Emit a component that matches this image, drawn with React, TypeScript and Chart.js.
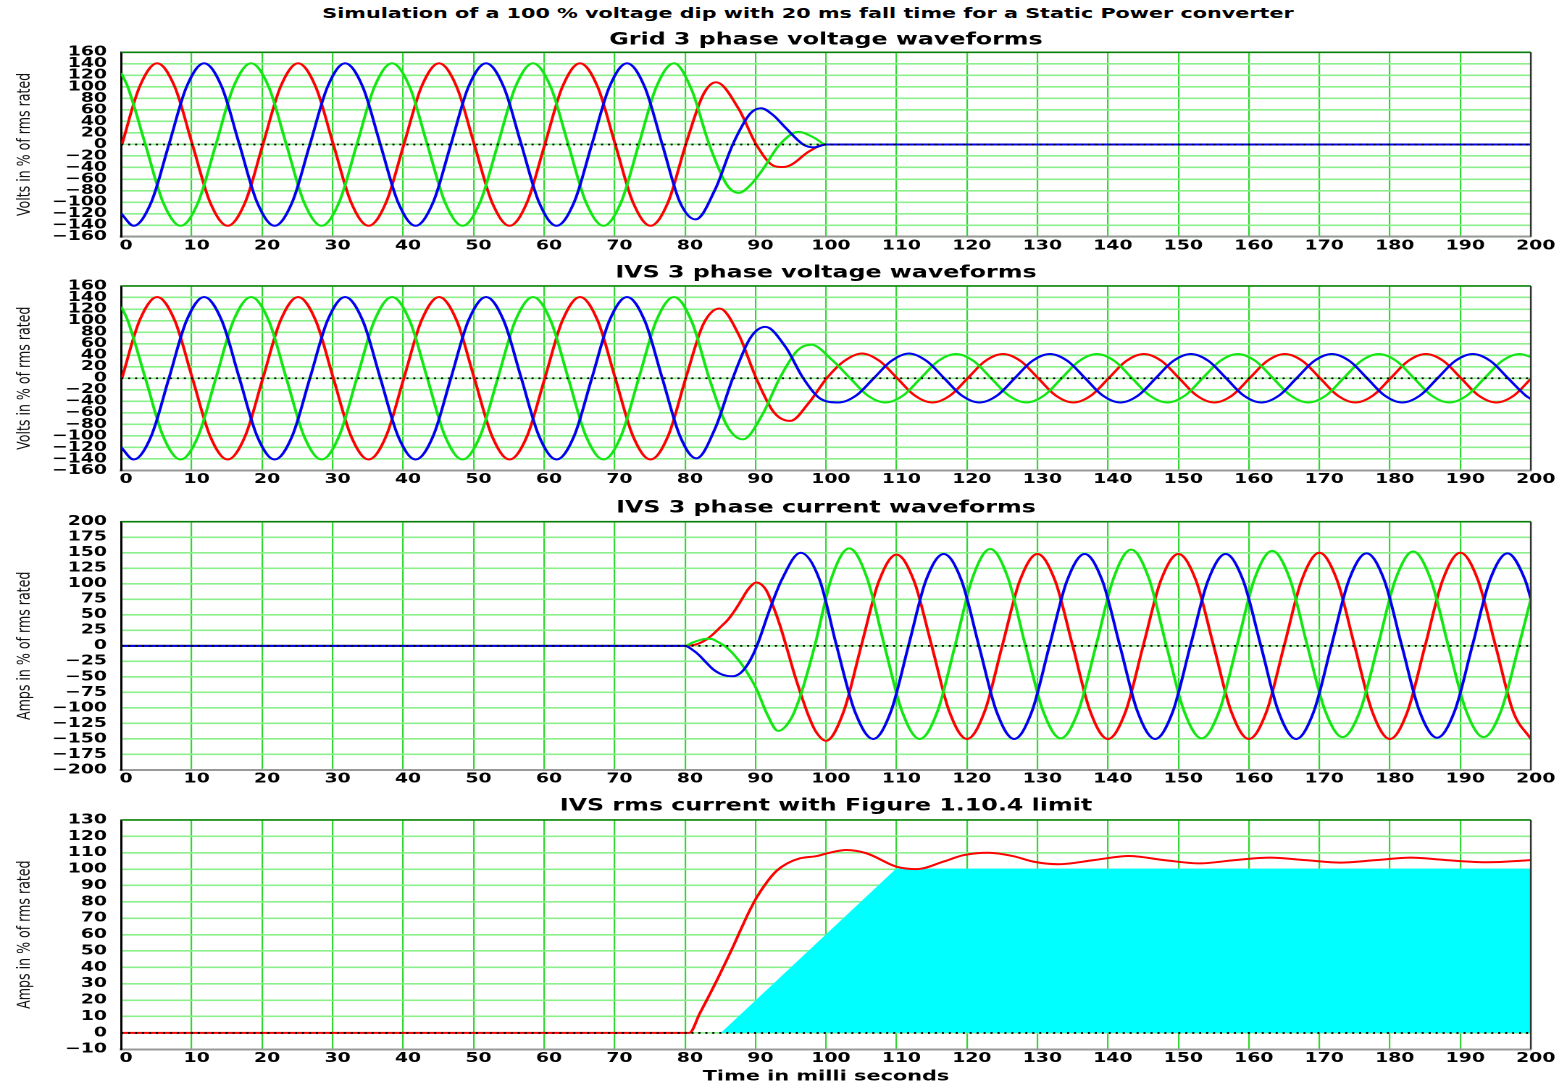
import React, { useEffect, useRef } from 'react';
import { Chart, registerables } from 'chart.js';
Chart.register(...registerables);

type Pt = [number, number];

// ---------- text ----------
const MAIN_TITLE = 'Simulation of a 100 % voltage dip with 20 ms fall time for a Static Power converter';
const TITLE_GRID_V = 'Grid 3 phase voltage waveforms';
const TITLE_IVS_V = 'IVS 3 phase voltage waveforms';
const TITLE_IVS_I = 'IVS 3 phase current waveforms';
const TITLE_RMS = 'IVS rms current with Figure 1.10.4 limit';
const Y_VOLTS = 'Volts in % of rms rated';
const Y_AMPS = 'Amps in % of rms rated';
const X_TIME = 'Time in milli seconds';

// ---------- ticks ----------
const TIME_TICKS = [0, 10, 20, 30, 40, 50, 60, 70, 80, 90, 100, 110, 120, 130, 140, 150, 160, 170, 180, 190, 200];
const VOLT_TICKS = [-160, -140, -120, -100, -80, -60, -40, -20, 0, 20, 40, 60, 80, 100, 120, 140, 160];
const CURR_TICKS = [-200, -175, -150, -125, -100, -75, -50, -25, 0, 25, 50, 75, 100, 125, 150, 175, 200];
const RMS_TICKS = [-10, 0, 10, 20, 30, 40, 50, 60, 70, 80, 90, 100, 110, 120, 130];

// ---------- pre-dip voltage waveforms (identical in grid and IVS) ----------
const RED_PRE: Pt[] = [
  [0.1, 0], [2.6, 100], [5.1, 141], [7.6, 100], [10.1, 0], [12.6, -100], [15.1, -141], [17.6, -100],
  [20.1, 0], [22.6, 100], [25.1, 141], [27.6, 100], [30.1, 0], [32.6, -100], [35.1, -141], [37.6, -100],
  [40.1, 0], [42.6, 100], [45.1, 141], [47.6, 100], [50.1, 0], [52.6, -100], [55.1, -141], [57.6, -100],
  [60.1, 0], [62.6, 100], [65.1, 141], [67.6, 100], [70.1, 0], [72.6, -100], [75.1, -141], [77.6, -100],
  [80.1, 0],
];
const BLUE_PRE: Pt[] = [
  [0, -120], [1.77, -141], [4.27, -100], [6.77, 0], [9.27, 100], [11.77, 141], [14.27, 100], [16.77, 0], [19.27, -100],
  [21.77, -141], [24.27, -100], [26.77, 0], [29.27, 100], [31.77, 141], [34.27, 100], [36.77, 0], [39.27, -100],
  [41.77, -141], [44.27, -100], [46.77, 0], [49.27, 100], [51.77, 141], [54.27, 100], [56.77, 0], [59.27, -100],
  [61.77, -141], [64.27, -100], [66.77, 0], [69.27, 100], [71.77, 141], [74.27, 100], [76.77, 0], [79.27, -100],
];
const GREEN_PRE: Pt[] = [
  [0, 124], [0.93, 100], [3.43, 0], [5.93, -100], [8.43, -141], [10.93, -100], [13.43, 0], [15.93, 100], [18.43, 141], [20.93, 100],
  [23.43, 0], [25.93, -100], [28.43, -141], [30.93, -100], [33.43, 0], [35.93, 100], [38.43, 141], [40.93, 100],
  [43.43, 0], [45.93, -100], [48.43, -141], [50.93, -100], [53.43, 0], [55.93, 100], [58.43, 141], [60.93, 100],
  [63.43, 0], [65.93, -100], [68.43, -141], [70.93, -100], [73.43, 0], [75.93, 100], [78.43, 141],
];

// ---------- grid voltage after the dip starts ----------
const GRID_RED_DIP: Pt[] = [[82.6, 87], [84.4, 108], [87.6, 62], [90.1, 0], [92.6, -37], [93.9, -39], [95.1, -35], [97.6, -12], [100, 0], [200, 0]];
const GRID_BLUE_DIP: Pt[] = [[81.5, -130], [84.27, -78], [86.77, 0], [89.27, 54], [90.8, 63], [92.5, 51], [94.27, 29], [96.77, 0], [98.3, -5], [100, 0], [200, 0]];
const GRID_GREEN_DIP: Pt[] = [[80.93, 95], [83.43, 0], [85.93, -70], [87.6, -84], [89.3, -70], [90.93, -45], [93.43, 0], [96.1, 22], [98.43, 11], [100, 0], [200, 0]];

// ---------- IVS voltage after the dip starts ----------
const IVS_RED_DIP: Pt[] = [
  [82.6, 94], [84.9, 121], [87.6, 76], [90.1, 0], [92.6, -59], [94.9, -74], [97.6, -42], [100.1, 0],
  [102.6, 30], [105.1, 43], [107.6, 30], [110.1, 0], [112.6, -30], [115.1, -42], [117.6, -30], [120.1, 0],
  [122.6, 30], [125.1, 42], [127.6, 30], [130.1, 0], [132.6, -30], [135.1, -42], [137.6, -30], [140.1, 0],
  [142.6, 30], [145.1, 42], [147.6, 30], [150.1, 0], [152.6, -30], [155.1, -42], [157.6, -30], [160.1, 0],
  [162.6, 30], [165.1, 42], [167.6, 30], [170.1, 0], [172.6, -30], [175.1, -42], [177.6, -30], [180.1, 0],
  [182.6, 30], [185.1, 42], [187.6, 30], [190.1, 0], [192.6, -30], [195.1, -42], [197.6, -30], [200, -1],
];
const IVS_BLUE_DIP: Pt[] = [
  [81.6, -139], [84.27, -87], [86.77, 0], [89.27, 70], [91.4, 89], [94.27, 54], [96.77, 0], [99.27, -36],
  [101.77, -42], [104.27, -30], [106.77, 0], [109.27, 30], [111.77, 43], [114.27, 30], [116.77, 0], [119.27, -30],
  [121.77, -42], [124.27, -30], [126.77, 0], [129.27, 30], [131.77, 42], [134.27, 30], [136.77, 0], [139.27, -30],
  [141.77, -42], [144.27, -30], [146.77, 0], [149.27, 30], [151.77, 42], [154.27, 30], [156.77, 0], [159.27, -30],
  [161.77, -42], [164.27, -30], [166.77, 0], [169.27, 30], [171.77, 42], [174.27, 30], [176.77, 0], [179.27, -30],
  [181.77, -42], [184.27, -30], [186.77, 0], [189.27, 30], [191.77, 42], [194.27, 30], [196.77, 0], [199.27, -30], [200, -36],
];
const IVS_GREEN_DIP: Pt[] = [
  [80.93, 99], [83.43, 0], [85.93, -82], [88.2, -106], [90.93, -64], [93.43, 0], [95.93, 48], [97.9, 58],
  [100.93, 31], [103.43, 0], [105.93, -30], [108.43, -42], [110.93, -30], [113.43, 0], [115.93, 30], [118.43, 42],
  [120.93, 30], [123.43, 0], [125.93, -30], [128.43, -42], [130.93, -30], [133.43, 0], [135.93, 30], [138.43, 42],
  [140.93, 30], [143.43, 0], [145.93, -30], [148.43, -42], [150.93, -30], [153.43, 0], [155.93, 30], [158.43, 42],
  [160.93, 30], [163.43, 0], [165.93, -30], [168.43, -42], [170.93, -30], [173.43, 0], [175.93, 30], [178.43, 42],
  [180.93, 30], [183.43, 0], [185.93, -30], [188.43, -42], [190.93, -30], [193.43, 0], [195.93, 30], [198.43, 42], [200, 37],
];

// ---------- IVS currents ----------
const CUR_RED: Pt[] = [
  [0, 0], [80, 0], [81, 1], [82, 4], [83, 10], [84, 19], [85, 30], [86, 41], [87, 56], [88, 74], [88.7, 87],
  [89.4, 97], [90.1, 102], [90.8, 99], [91.6, 88], [92.5, 64], [93.5, 32], [94.5, -6], [95.5, -45], [96.5, -80],
  [97.5, -112], [98.5, -137], [100, -153], [102.5, -106], [105, 0], [107.5, 104], [110, 147],
  [112.5, 104], [115, 0], [117.5, -106], [120, -150], [122.5, -106], [125, 0], [127.5, 105], [130, 148],
  [132.5, 105], [135, 0], [137.5, -106], [140, -150], [142.5, -106], [145, 0], [147.5, 105], [150, 148],
  [152.5, 105], [155, 0], [157.5, -106], [160, -150], [162.5, -106], [165, 0], [167.5, 106], [170, 150],
  [172.5, 106], [175, 0], [177.5, -106], [180, -150], [182.5, -106], [185, 0], [187.5, 106], [190, 150],
  [192.5, 106], [195, 0], [197.5, -106], [200, -150],
];
const CUR_BLUE: Pt[] = [
  [0, 0], [80, 0], [81, -6], [82, -15], [83, -27], [84, -38], [85, -45], [86, -48.5], [86.8, -49], [87.6, -46],
  [88.3, -39], [89.3, -22], [90.2, 0], [91.9, 55], [93.7, 106], [96.4, 150], [99.1, 106], [101.5, 0],
  [104.1, -106], [106.7, -150], [109.2, -106], [111.7, 0], [114.2, 106], [116.7, 148], [119.2, 106], [121.7, 0],
  [124.2, -106], [126.7, -150], [129.2, -106], [131.7, 0], [134.2, 105], [136.7, 148], [139.2, 105], [141.7, 0],
  [144.2, -106], [146.7, -150], [149.2, -106], [151.7, 0], [154.2, 105], [156.7, 148], [159.2, 105], [161.7, 0],
  [164.2, -106], [166.7, -150], [169.2, -106], [171.7, 0], [174.2, 106], [176.7, 149], [179.2, 106], [181.7, 0],
  [184.2, -105], [186.7, -148], [189.2, -105], [191.7, 0], [194.2, 106], [196.7, 149], [199.2, 106], [200, 76],
];
const CUR_GREEN: Pt[] = [
  [0, 0], [80, 0], [81, 5], [82, 9], [83, 11.5], [83.8, 11], [84.7, 6], [85.6, 0], [87, -15], [88.3, -34],
  [90.2, -71], [91.6, -109], [93.2, -137], [95.1, -116], [96.55, -74], [98.4, 0], [100.8, 110], [103.3, 157],
  [105.8, 110], [108.3, 0], [110.8, -106], [113.3, -150], [115.8, -106], [118.3, 0], [120.8, 110], [123.3, 156],
  [125.8, 110], [128.3, 0], [130.8, -105], [133.3, -149], [135.8, -105], [138.3, 0], [140.8, 109], [143.3, 155],
  [145.8, 109], [148.3, 0], [150.8, -105], [153.3, -149], [155.8, -105], [158.3, 0], [160.8, 108], [163.3, 153],
  [165.8, 108], [168.3, 0], [170.8, -104], [173.3, -147], [175.8, -104], [178.3, 0], [180.8, 107], [183.3, 152],
  [185.8, 107], [188.3, 0], [190.8, -104], [193.3, -147], [195.8, -104], [198.3, 0], [200, 75],
];

// ---------- rms current and limit ----------
const RMS_CURRENT: Pt[] = [
  [0, 0], [80.6, 0], [82.1, 12], [84.5, 32], [86.85, 53], [88, 64], [89.2, 75], [90.2, 83], [91.6, 92],
  [93, 99], [94.5, 103.5], [96.3, 106.6], [98.7, 108], [100.1, 109.6], [102.9, 111.7], [105.8, 109.6],
  [110, 101.5], [112.9, 100], [116.6, 104.5], [119.5, 108.5], [123, 110], [126.5, 108], [129.5, 104.5],
  [133, 103], [138, 105.5], [143, 108], [148, 105.5], [153, 103.5], [158, 105.5], [163, 107], [168, 105.5],
  [173, 104], [178, 105.5], [183, 107], [188, 105.5], [194, 104.2], [200, 105.5],
];
const RMS_LIMIT: Pt[] = [[85.2, 0], [110, 100], [200, 100]];

// ---------- styling / layout ----------
const S = 1559 / 1076;
const CW = 1076;
const PLOT_LEFT = 121.2 / S;
const PLOT_RIGHT = 1530.8 / S;
const FONT = "'DejaVu Sans', sans-serif";
const RED = '#ff0000';
const GREEN = '#14e614';
const BLUE = '#0000f0';
const CYAN = '#00ffff';
const TITLE_FS = 16.4;
const TITLE_LH = 1.2;

Chart.defaults.font.family = FONT;

const pts = (a: Pt[]) => a.map(([x, y]) => ({ x, y }));
const fmt = (v: number) => (v < 0 ? '\u2212' + Math.abs(v) : String(v));

const wave = (data: Pt[], color: string) => ({
  data: pts(data),
  borderColor: color,
  backgroundColor: color,
  borderWidth: 2,
  pointRadius: 0,
  fill: false,
  cubicInterpolationMode: 'monotone',
});

const framePlugin = {
  id: 'frame',
  afterDatasetsDraw(chart: any) {
    const { ctx, chartArea } = chart;
    const { left, right, top, bottom } = chartArea;
    const y0 = chart.scales.y.getPixelForValue(0);
    ctx.save();
    ctx.strokeStyle = '#000';
    ctx.lineWidth = 1.8;
    ctx.setLineDash([1.4, 3.4]);
    ctx.beginPath();
    ctx.moveTo(left, y0);
    ctx.lineTo(right, y0);
    ctx.stroke();
    ctx.setLineDash([]);
    ctx.strokeStyle = '#0b7d0b';
    ctx.lineWidth = 1.6;
    ctx.beginPath();
    ctx.moveTo(left, top);
    ctx.lineTo(right, top);
    ctx.stroke();
    ctx.strokeStyle = '#333';
    ctx.lineWidth = 1.2;
    ctx.beginPath();
    ctx.moveTo(right, top);
    ctx.lineTo(right, bottom);
    ctx.stroke();
    ctx.restore();
  },
};

interface Panel {
  band: [number, number];
  titleY: number;
  plotTop: number;
  plotBottom: number;
  xAxisH: number;
  title: string;
  yTitle: string;
  yTicks: number[];
  xTitle?: string;
  datasets: any[];
}

function buildConfig(p: Panel): any {
  const half = (TITLE_FS * TITLE_LH) / 2;
  const padTop = p.titleY - p.band[0] - half;
  const titlePb = p.plotTop - p.titleY - half;
  const padBottom = p.band[1] - p.plotBottom - p.xAxisH;
  const tickFont = { family: FONT, weight: 'bold', size: 13, lineHeight: 1.2 };
  return {
    type: 'line',
    data: { datasets: p.datasets },
    options: {
      responsive: false,
      animation: false,
      devicePixelRatio: 2,
      events: [],
      layout: { padding: { top: padTop, bottom: padBottom, left: 0, right: CW - PLOT_RIGHT } },
      plugins: {
        legend: { display: false },
        tooltip: { enabled: false },
        title: {
          display: true,
          text: p.title,
          fullSize: false,
          color: '#000',
          font: { family: FONT, weight: 'bold', size: TITLE_FS, lineHeight: TITLE_LH },
          padding: { top: 0, bottom: titlePb },
        },
      },
      scales: {
        x: {
          type: 'linear',
          min: TIME_TICKS[0],
          max: TIME_TICKS[TIME_TICKS.length - 1],
          afterBuildTicks: (s: any) => {
            s.ticks = TIME_TICKS.map((v) => ({ value: v }));
          },
          afterFit: (s: any) => {
            s.height = p.xAxisH;
          },
          grid: { color: '#2fd82f', lineWidth: 1.1, drawTicks: false },
          border: { color: '#999', width: 2 },
          ticks: {
            autoSkip: false,
            maxRotation: 0,
            minRotation: 0,
            padding: 1.5,
            labelOffset: 3.4,
            color: '#000',
            font: tickFont,
            callback: (v: number) => fmt(v),
          },
          title: p.xTitle
            ? {
                display: true,
                text: p.xTitle,
                color: '#000',
                font: { family: FONT, weight: 'bold', size: 14.4, lineHeight: 1.2 },
                padding: { top: 0, bottom: 0.4 },
              }
            : { display: false },
        },
        y: {
          type: 'linear',
          min: p.yTicks[0],
          max: p.yTicks[p.yTicks.length - 1],
          afterBuildTicks: (s: any) => {
            s.ticks = p.yTicks.map((v) => ({ value: v }));
          },
          afterFit: (s: any) => {
            s.width = PLOT_LEFT;
          },
          grid: { color: '#8bef8b', lineWidth: 1.6, drawTicks: false },
          border: { color: '#000', width: 1.5 },
          ticks: {
            autoSkip: false,
            padding: 9.8,
            color: '#000',
            font: tickFont,
            callback: (v: number) => fmt(v),
          },
          title: {
            display: true,
            text: p.yTitle,
            color: '#111',
            font: { family: FONT, size: 12.6, weight: 'normal', lineHeight: 1.2 },
            padding: { top: 9.7, bottom: 0 },
          },
        },
      },
    },
    plugins: [framePlugin],
  };
}

const PANELS: Panel[] = [
  {
    band: [24, 262], titleY: 40, plotTop: 52.3, plotBottom: 236.7, xAxisH: 22,
    title: TITLE_GRID_V, yTitle: Y_VOLTS, yTicks: VOLT_TICKS,
    datasets: [
      wave([...BLUE_PRE, ...GRID_BLUE_DIP], BLUE),
      wave([...GREEN_PRE, ...GRID_GREEN_DIP], GREEN),
      wave([...RED_PRE, ...GRID_RED_DIP], RED),
    ],
  },
  {
    band: [262, 495], titleY: 273, plotTop: 286, plotBottom: 470.5, xAxisH: 22,
    title: TITLE_IVS_V, yTitle: Y_VOLTS, yTicks: VOLT_TICKS,
    datasets: [
      wave([...BLUE_PRE, ...IVS_BLUE_DIP], BLUE),
      wave([...GREEN_PRE, ...IVS_GREEN_DIP], GREEN),
      wave([...RED_PRE, ...IVS_RED_DIP], RED),
    ],
  },
  {
    band: [495, 793], titleY: 508, plotTop: 521.7, plotBottom: 770, xAxisH: 22,
    title: TITLE_IVS_I, yTitle: Y_AMPS, yTicks: CURR_TICKS,
    datasets: [wave(CUR_BLUE, BLUE), wave(CUR_GREEN, GREEN), wave(CUR_RED, RED)],
  },
  {
    band: [793, 1086], titleY: 806, plotTop: 820, plotBottom: 1049.3, xAxisH: 36.7,
    title: TITLE_RMS, yTitle: Y_AMPS, yTicks: RMS_TICKS, xTitle: X_TIME,
    datasets: [
      wave(RMS_CURRENT, RED),
      {
        data: pts(RMS_LIMIT),
        borderColor: CYAN,
        backgroundColor: CYAN,
        borderWidth: 1,
        pointRadius: 0,
        tension: 0,
        fill: 'origin',
      },
    ],
  },
];

function PanelChart({ p }: { p: Panel }) {
  const ref = useRef<HTMLCanvasElement>(null);
  useEffect(() => {
    if (!ref.current) return;
    const chart = new Chart(ref.current, buildConfig(p));
    return () => chart.destroy();
  }, [p]);
  const h = p.band[1] - p.band[0];
  return (
    <canvas
      ref={ref}
      width={CW}
      height={h}
      style={{ position: 'absolute', left: 0, top: p.band[0], width: CW, height: h }}
    />
  );
}

export default function App() {
  const titleCenter = 808 / S;
  return (
    <div
      style={{
        position: 'absolute',
        left: 0,
        top: 0,
        width: CW,
        height: 1086,
        background: '#fff',
        transform: `scaleX(${S})`,
        transformOrigin: '0 0',
        overflow: 'visible',
      }}
    >
      <div
        style={{
          position: 'absolute',
          left: titleCenter - 500,
          top: 4,
          width: 1000,
          textAlign: 'center',
          fontFamily: FONT,
          fontWeight: 'bold',
          fontSize: '14.3px',
          lineHeight: '18px',
          whiteSpace: 'nowrap',
          color: '#000',
        }}
      >
        {MAIN_TITLE}
      </div>
      {PANELS.map((p, i) => (
        <PanelChart key={i} p={p} />
      ))}
    </div>
  );
}
